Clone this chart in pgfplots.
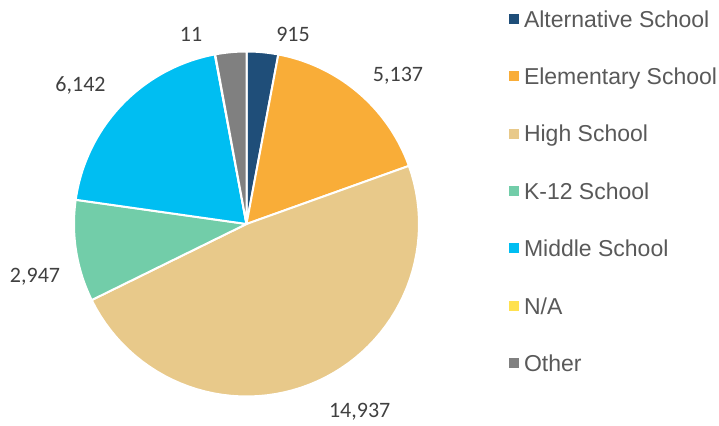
\documentclass[border=0pt]{standalone}
\usepackage{pgfplots}
\pgfplotsset{compat=1.18}
\usepackage{fontspec}
\setmainfont{Liberation Sans}
\newfontfamily\carlito{Carlito}
\definecolor{cAlt}{HTML}{1F4E79}
\definecolor{cElem}{HTML}{F9AD38}
\definecolor{cHigh}{HTML}{E8C98A}
\definecolor{cKtw}{HTML}{72CDA9}
\definecolor{cMid}{HTML}{00BEF2}
\definecolor{cNA}{HTML}{FFE150}
\definecolor{cOther}{HTML}{808080}
\definecolor{legtext}{HTML}{595959}
\definecolor{labtext}{HTML}{404040}
\begin{document}
\begin{tikzpicture}
% data values
\def\vA{915}
\def\vB{5137}
\def\vC{14937}
\def\vD{2947}
\def\vE{6142}
\def\vF{11}
\def\vG{900}
\pgfmathsetmacro{\T}{\vA/1000+\vB/1000+\vC/1000+\vD/1000+\vE/1000+\vF/1000+\vG/1000}
\pgfmathsetmacro{\aA}{90}
\pgfmathsetmacro{\aB}{\aA-360*(\vA/1000)/\T}
\pgfmathsetmacro{\aC}{\aB-360*(\vB/1000)/\T}
\pgfmathsetmacro{\aD}{\aC-360*(\vC/1000)/\T}
\pgfmathsetmacro{\aE}{\aD-360*(\vD/1000)/\T}
\pgfmathsetmacro{\aF}{\aE-360*(\vE/1000)/\T}
\pgfmathsetmacro{\aG}{\aF-360*(\vF/1000)/\T}
\pgfmathsetmacro{\aH}{-270}
\def\cx{246.5}
\def\cy{201}
\def\r{172.5}
\begin{axis}[
  x=1pt, y=1pt,
  xmin=0, xmax=719, ymin=0, ymax=425,
  hide axis,
  clip=false,
  legend style={
    at={(509/719,414.5/425)}, anchor=north west,
    draw=none, fill=none, inner sep=0pt, outer sep=0pt,
    row sep=40.9pt, column sep=5pt,
    font=\fontsize{23}{27}\selectfont\color{legtext},
    nodes={inner sep=0pt, outer sep=0pt, text height=16.5pt, text depth=0pt},
  },
  legend cell align=left,
  legend image code/.code={\fill[#1, draw=none] (0pt,-5pt) rectangle (10pt,5pt);},
  slice/.style={draw=white, line width=2pt, line join=round, samples=60, variable=\t},
]
\addplot[slice, fill=cAlt, domain=\aB:\aA] ({\cx+\r*cos(\t)},{\cy+\r*sin(\t)}) -- (axis cs:\cx,\cy) -- cycle;
\addlegendentry{Alternative School}
\addplot[slice, fill=cElem, domain=\aC:\aB] ({\cx+\r*cos(\t)},{\cy+\r*sin(\t)}) -- (axis cs:\cx,\cy) -- cycle;
\addlegendentry{Elementary School}
\addplot[slice, fill=cHigh, domain=\aD:\aC] ({\cx+\r*cos(\t)},{\cy+\r*sin(\t)}) -- (axis cs:\cx,\cy) -- cycle;
\addlegendentry{High School}
\addplot[slice, fill=cKtw, domain=\aE:\aD] ({\cx+\r*cos(\t)},{\cy+\r*sin(\t)}) -- (axis cs:\cx,\cy) -- cycle;
\addlegendentry{K-12 School}
\addplot[slice, fill=cMid, domain=\aF:\aE] ({\cx+\r*cos(\t)},{\cy+\r*sin(\t)}) -- (axis cs:\cx,\cy) -- cycle;
\addlegendentry{Middle School}
\addplot[slice, fill=cNA, domain=\aG:\aF, samples=2] ({\cx+\r*cos(\t)},{\cy+\r*sin(\t)}) -- (axis cs:\cx,\cy) -- cycle;
\addlegendentry{N/A}
\addplot[slice, fill=cOther, domain=\aH:\aG] ({\cx+\r*cos(\t)},{\cy+\r*sin(\t)}) -- (axis cs:\cx,\cy) -- cycle;
\addlegendentry{Other}
% data labels
\begin{scope}[every node/.style={anchor=base, inner sep=0pt, text=labtext, font=\carlito\fontsize{22}{26}\selectfont}]
\node at (axis cs:293,383.3) {915};
\node at (axis cs:398,343) {5,137};
\node at (axis cs:359.7,8) {14,937};
\node at (axis cs:35,142) {2,947};
\node at (axis cs:80.5,333) {6,142};
\node at (axis cs:191,383.3) {11};
\end{scope}
\end{axis}
\pgfresetboundingbox
\path[use as bounding box] (current axis.south west) rectangle (current axis.north east);
\end{tikzpicture}
\end{document}
